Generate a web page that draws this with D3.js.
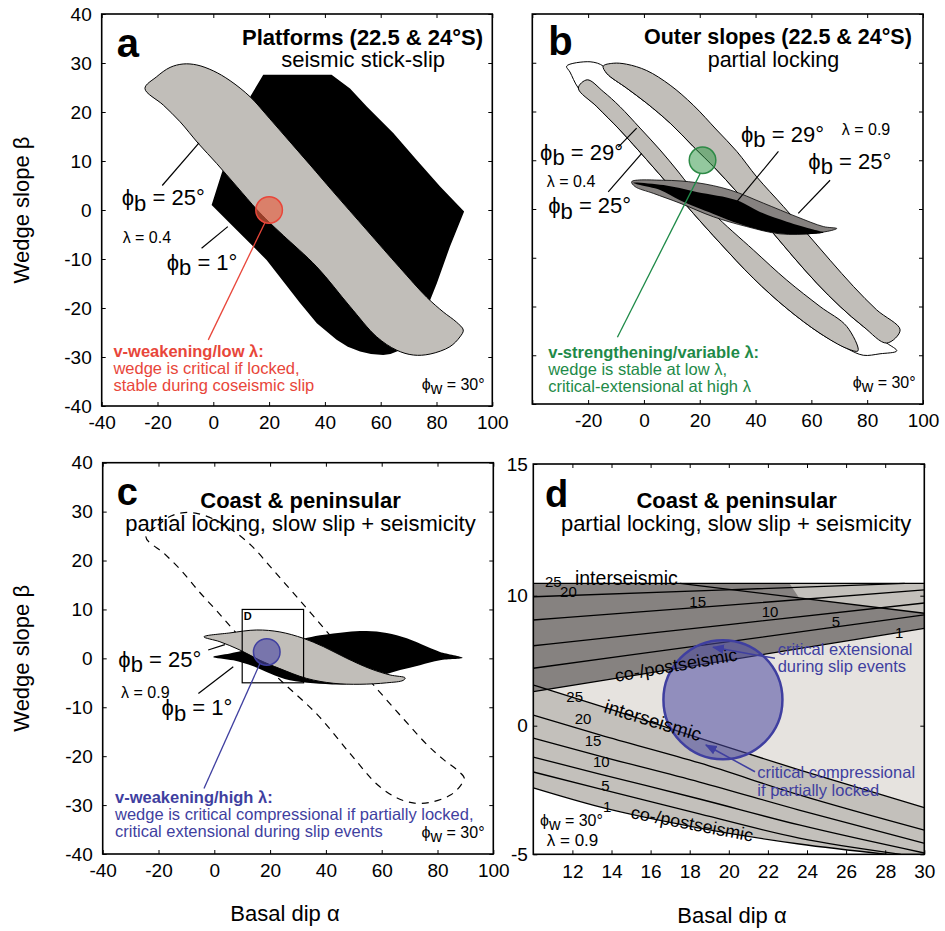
<!DOCTYPE html>
<html>
<head>
<meta charset="utf-8">
<script src="https://cdn.jsdelivr.net/npm/d3@7"></script>
<style>
  body { margin: 0; background: #fff; }
  text { font-family: "Liberation Sans", Arial, sans-serif; }
</style>
</head>
<body>
<script>
// ---------- data: [basal dip alpha, wedge slope beta] ----------
// panel a, phi_b = 25 (light gray band), also drawn dashed in c
const bandA25 = [[-24.5,24.8],[-20.3,27.2],[-15.5,29.1],[-10.8,29.8],[-5.9,29.6],[0,28.4],[6,26.4],[13.2,23.1],
  [20.3,18.6],[27.5,13.9],[34.7,9.2],[43,3.7],[55,-4.1],[66.9,-11.8],[76.5,-17.8],[82.4,-20.8],[87.2,-22.9],[89.6,-24.5],
  [88.4,-25.9],[84.8,-27.9],[77.7,-29.4],[71.7,-29.6],[65.7,-28.6],[58.6,-25.9],[49,-19.7],[37.1,-11.6],[25.1,-5.2],
  [19.7,-2.3],[15.6,0.1],[8.4,4.8],[1.2,9.5],[-5.4,13.6],[-11.9,18.0],[-17.9,21.4]];
// panel a, phi_b = 1 (black)
const blackA1 = [[-0.6,1.0],[3,7.5],[7.8,15.3],[13.2,23.1],[17.9,27.6],[42.4,27.6],[49,24.8],[55,21.1],[64.5,15.7],
  [72.9,10.2],[81.3,4.8],[89.9,-0.3],[84.8,-7.5],[80.1,-15],[77.7,-18.4],[70,-26],[66.9,-28.6],[63.5,-29.4],[60.9,-29.6],
  [56.5,-29.4],[52.6,-28.9],[48.2,-27.9],[44.2,-26.5],[37.1,-23.1],[31.1,-19],[19.1,-10.2],[7.2,-3.4]];

// panel b, lambda = 0.4 bands
const whiteB29 = [[-27.7,29.3],[-19.3,30.2],[-14.6,29.3],[-13.3,27.8],[-6.2,24.8],[1,21.7],[9.4,17.6],[17.7,12.8],[26.1,8],
  [39.2,-0.3],[46.4,-5],[53.5,-9.8],[61.9,-15.2],[70.3,-20],[78.6,-24.1],[87,-27.5],[90.6,-29.1],[84.6,-29.7],[78.6,-30],
  [72.7,-28.6],[63.1,-25.5],[51.2,-20.4],[39.2,-14.2],[27.3,-7],[17.7,-0.9],[9.4,4.6],[1,10.1],[-8.6,16.2],[-16.9,21],
  [-23.5,24.8],[-26.5,28.1]];
const grayB25 = [[-23.5,24.8],[-20.3,26.5],[-14.6,24.1],[-8.6,21],[-1.4,16.6],[5.8,12.1],[11.8,8],[16.5,4.6],[24.9,-0.9],
  [39.2,-8.4],[51.2,-14.6],[63.1,-20],[72.7,-24.1],[76.7,-29.1],[72.7,-28.6],[63.1,-25.5],[51.2,-20.4],[39.2,-14.2],
  [27.3,-7],[17.7,-0.9],[9.4,4.6],[1,10.1],[-8.6,16.2],[-16.9,21]];
const grayB29 = [[-14.6,29.3],[-11,29.9],[-6.2,29.7],[1,28.4],[9.4,25.4],[17.7,21.3],[26.1,16.2],[33.3,11.8],[40.4,6.6],
  [50,0.5],[58.4,-5],[66.7,-10.5],[75.1,-15.9],[83.4,-20.7],[91.8,-24.8],[87,-27.5],[78.6,-24.1],[70.3,-20],[61.9,-15.2],
  [53.5,-9.8],[46.4,-5],[39.2,-0.3],[26.1,8],[17.7,12.8],[9.4,17.6],[1,21.7],[-6.2,24.8],[-13.3,27.8]];
// panel b, lambda = 0.9 lenses
const lensB25 = [[-4.4,5.6],[7,5.9],[18.9,5.4],[30.9,3.9],[42.8,1.2],[54.8,-1.6],[64.3,-3.6],[69.1,-4],[67.9,-4.3],
  [60.7,-5],[48.8,-5.1],[36.8,-3.6],[24.9,-1.6],[12.9,1.2],[3.4,3.2],[-3.2,4.6]];
const lensB29 = [[-3.8,5.4],[7,4.9],[18.9,3.5],[33.3,1.8],[41.6,-0.6],[51.2,-2.6],[60.7,-4.2],[64.3,-4.8],[55.9,-5.2],
  [48.8,-5],[41.6,-4.3],[34.4,-3.1],[24.9,-1],[12.9,1.8],[5.8,3.9],[-1.4,4.9]];

// panel c, lambda = 0.9
const grayC25 = [[-3.7,4.4],[5.6,5.2],[15.2,5.8],[23.5,5.4],[31.9,4.1],[39.1,2.4],[47.5,0],[55.8,-2.1],[63,-3.4],
  [68.4,-4],[67.7,-4.5],[61.8,-5],[52.2,-5.3],[42.7,-5.1],[33.1,-4.1],[23.5,-2.1],[16.4,-0.4],[9.2,1.7],[2,3.4]];
const blackC1 = [[-0.4,0.3],[5.6,1],[11.6,1.7],[20,2.5],[27.1,3.3],[31.9,4],[37.9,4.7],[47.5,5.4],[54.6,5.6],[61.8,5.2],
  [69,4.1],[76.1,2.4],[80.9,1.3],[89,0.1],[80.9,-0.4],[73.7,-1.4],[66.6,-2.4],[60.6,-3.4],[54.6,-4.5],[47.5,-5.3],
  [35.5,-5.1],[27.1,-4.5],[20,-3.1],[14,-1.6],[6.8,-0.4]];
const boxDx = [10, 32], boxDy = [-5, 10];

// panel d contours (phi_b = 25, 20, 15, 10, 5, 1)
const dTopLine = [[10,10.47],[30,10.47]];
const dInter = {            // upper family, rising
  20: [[10,9.92],[19.5,10.21],[29,10.47]],
  15: [[10,8.13],[20,9.28],[30,10.22]],
  10: [[10,6.15],[20,7.78],[30,9.44]],
  5:  [[10,4.42],[20,6.47],[30,8.52]],
  1:  [[10,2.62],[20,5.05],[30,7.49]]
};
const dDescLine = [[17.5,10.47],[30,8.65]];
const dLightTri = [[23.1,10.47],[30,10.47],[30,8.65],[23.6,9.82]];
const dCoXs = [10, 13.4, 18.5, 23.6, 30];
const dCo = {               // lower family, falling
  25: [3.13, 1.52, -0.48, -1.72, -3.19],
  20: [0.82, -0.36, -1.45, -2.69, -4.06],
  15: [-0.48, -1.18, -2.19, -3.28, -4.57],
  10: [-1.22, -1.88, -2.85, -3.86, -4.95]
};
const dCo5 = [[10,-1.8],[13.4,-2.46],[18.5,-3.43],[23.6,-4.37],[28.8,-5]];
const dCo1 = [[10,-2.42],[13.4,-3.16],[18.5,-3.98],[23.6,-4.6],[28.1,-5]];

// highlighted conditions (circle centres)
const circA = [20, 0], circB = [21, 10], circC = [18.8, 1.3], circD = [19.7, 2.0];

// ticks
const xTicks = [-40, -20, 0, 20, 40, 60, 80, 100];
const yTicks = [-40, -30, -20, -10, 0, 10, 20, 30, 40];
const dXTicks = [12, 14, 16, 18, 20, 22, 24, 26, 28, 30];
const dYTicks = [-5, 0, 10, 15];

// ---------- drawing ----------
const FONT = '"Liberation Sans", Arial, sans-serif';
const GRAY = "#c1beb9", DARK = "#868280";
const RED = "#e8463a", GREEN = "#1e8a48", BLUE = "#3f3fa0";

const svg = d3.select("body").append("svg").attr("width", 945).attr("height", 931);

const xA = d3.scaleLinear().domain([-40, 100]).range([101.7, 492.3]);
const yA = d3.scaleLinear().domain([-40, 40]).range([406, 14]);
const xB = d3.scaleLinear().domain([-40, 100]).range([532.3, 923]);
const yB = d3.scaleLinear().domain([-40, 40]).range([404, 14]);
const xC = d3.scaleLinear().domain([-40, 100]).range([102.7, 493.3]);
const yC = d3.scaleLinear().domain([-40, 40]).range([854, 462.7]);
const xD = d3.scaleLinear().domain([10, 30]).range([533.3, 924.3]);
// the source figure's y labels in d are unevenly spaced, so the scale is piecewise
const yD = d3.scaleLinear().domain([-5, 0, 10, 15]).range([854.3, 725.7, 595.7, 464]);

function closed(x, y) { return d3.line().x(d => x(d[0])).y(d => y(d[1])).curve(d3.curveCatmullRomClosed.alpha(0.5)); }
function poly(x, y) { return d3.line().x(d => x(d[0])).y(d => y(d[1])).curve(d3.curveLinearClosed); }
function open(x, y) { return d3.line().x(d => x(d[0])).y(d => y(d[1])).curve(d3.curveMonotoneX); }
function seg(g, x, y, p, q, color, w) {
  return g.append("line").attr("x1", x(p[0])).attr("y1", y(p[1])).attr("x2", x(q[0])).attr("y2", y(q[1]))
    .attr("stroke", color || "#000").attr("stroke-width", w || 1.2);
}
function txt(g, x, y, p, s, size, opts) {
  opts = opts || {};
  return g.append("text").attr("x", x(p[0])).attr("y", y(p[1])).text(s)
    .style("font-size", size + "px")
    .style("font-weight", opts.bold ? "bold" : null)
    .attr("text-anchor", opts.anchor || "start")
    .attr("fill", opts.color || "#000");
}
function phi(g, x, y, p, sub, rest, size) {
  const t = g.append("text").attr("x", x(p[0])).attr("y", y(p[1])).style("font-size", size + "px");
  t.append("tspan").text("ϕ");
  t.append("tspan").attr("dy", size * 0.25).text(sub);
  t.append("tspan").attr("dy", -size * 0.25).text(rest);
  return t;
}
function clip(id, x, y) {
  const r = y.range();
  svg.append("clipPath").attr("id", id).append("rect")
    .attr("x", x.range()[0]).attr("y", r[r.length - 1])
    .attr("width", x.range()[1] - x.range()[0]).attr("height", r[0] - r[r.length - 1]);
  return svg.append("g").attr("clip-path", `url(#${id})`);
}
function axes(x, y, xVals, yVals, xFmt, yFmt, pad) {
  const r = y.range(), yb = r[0], yt = r[r.length - 1];
  const [xl, xr] = x.range();
  const tidy = a => a.call(s => s.select(".domain").remove())
    .call(s => s.selectAll("text").style("font-size", "19px").style("font-family", FONT))
    .call(s => s.selectAll("line").attr("stroke-width", 1));
  svg.append("g").attr("transform", `translate(0,${yb})`)
    .call(d3.axisBottom(x).tickValues(xVals).tickSize(-4).tickPadding(10).tickFormat(xFmt)).call(tidy);
  svg.append("g").attr("transform", `translate(0,${yt})`)
    .call(d3.axisTop(x).tickValues(xVals).tickSize(-4).tickFormat("")).call(tidy);
  svg.append("g").attr("transform", `translate(${xl},0)`)
    .call(d3.axisLeft(y).tickValues(yVals).tickSize(-4).tickPadding(pad).tickFormat(yFmt)).call(tidy);
  svg.append("g").attr("transform", `translate(${xr},0)`)
    .call(d3.axisRight(y).tickValues(yVals).tickSize(-4).tickFormat("")).call(tidy);
  svg.append("rect").attr("x", xl).attr("y", yt).attr("width", xr - xl).attr("height", yb - yt)
    .attr("fill", "none").attr("stroke", "#000").attr("stroke-width", 1.6);
}
const num = d => String(d);

// ===== panel a =====
const gA = clip("clipA", xA, yA);
gA.append("path").datum(blackA1).attr("d", poly(xA, yA)).attr("fill", "#000");
gA.append("path").datum(bandA25).attr("d", closed(xA, yA)).attr("fill", GRAY).attr("stroke", "#000").attr("stroke-width", 1);
gA.append("circle").attr("cx", xA(circA[0])).attr("cy", yA(circA[1])).attr("r", 13.3)
  .attr("fill", "#e8603f").attr("fill-opacity", 0.65).attr("stroke", RED).attr("stroke-width", 1.5);
seg(gA, xA, yA, [18.5, -2.6], [-1.8, -26.5], RED, 1.3);
seg(gA, xA, yA, [-18.3, 5.0], [-5.1, 13.7]);
seg(gA, xA, yA, [-4.2, -7.8], [5.2, -3.4]);
phi(gA, xA, yA, [-32.8, 1.0], "b", " = 25°", 22);
txt(gA, xA, yA, [-32.5, -6.7], "λ = 0.4", 16);
phi(gA, xA, yA, [-16.7, -12.2], "b", " = 1°", 22);
txt(gA, xA, yA, [-35.8, -29.9], "v-weakening/low λ:", 16.5, { bold: true, color: RED });
txt(gA, xA, yA, [-35.8, -33.5], "wedge is critical if locked,", 16.5, { color: RED });
txt(gA, xA, yA, [-35.8, -36.9], "stable during coseismic slip", 16.5, { color: RED });
phi(gA, xA, yA, [74.7, -36.7], "w", " = 30°", 16);
txt(gA, xA, yA, [-34.6, 31.3], "a", 40, { bold: true });
txt(gA, xA, yA, [96.7, 33.7], "Platforms (22.5 & 24°S)", 22, { bold: true, anchor: "end" });
txt(gA, xA, yA, [53.7, 29.2], "seismic stick-slip", 22, { anchor: "middle" });
axes(xA, yA, xTicks, yTicks, num, num, 10);

// ===== panel b =====
const gB = clip("clipB", xB, yB);
gB.append("path").datum(whiteB29).attr("d", closed(xB, yB)).attr("fill", "#fff").attr("stroke", "#000").attr("stroke-width", 1);
gB.append("path").datum(grayB25).attr("d", closed(xB, yB)).attr("fill", GRAY).attr("stroke", "#000").attr("stroke-width", 1);
gB.append("path").datum(grayB29).attr("d", closed(xB, yB)).attr("fill", GRAY).attr("stroke", "#000").attr("stroke-width", 1);
gB.append("path").datum(lensB25).attr("d", closed(xB, yB)).attr("fill", DARK).attr("stroke", "#000").attr("stroke-width", 0.8);
gB.append("path").datum(lensB29).attr("d", closed(xB, yB)).attr("fill", "#000");
gB.append("circle").attr("cx", xB(circB[0])).attr("cy", yB(circB[1])).attr("r", 13.3)
  .attr("fill", "#3a9a4e").attr("fill-opacity", 0.55).attr("stroke", "#2d8a46").attr("stroke-width", 1.5);
seg(gB, xB, yB, [20.1, 7.2], [-9.5, -26.3], GREEN, 1.3);
seg(gB, xB, yB, [-9.2, 12.7], [-2.6, 16.6]);
seg(gB, xB, yB, [-12.8, 3.5], [-0.8, 11.4]);
seg(gB, xB, yB, [48.2, 11.8], [33.3, 1.5]);
seg(gB, xB, yB, [66.7, 5.9], [55.3, -0.9]);
phi(gB, xB, yB, [-37.2, 10.1], "b", " = 29°", 22);
txt(gB, xB, yB, [-34.8, 4.6], "λ = 0.4", 16);
phi(gB, xB, yB, [-34.3, -0.9], "b", " = 25°", 22);
phi(gB, xB, yB, [34.8, 13.8], "b", " = 29°", 22);
txt(gB, xB, yB, [70.9, 15.2], "λ = 0.9", 16);
phi(gB, xB, yB, [58.9, 8.3], "b", " = 25°", 22);
txt(gB, xB, yB, [-34.3, -30.6], "v-strengthening/variable λ:", 16.5, { bold: true, color: GREEN });
txt(gB, xB, yB, [-34.3, -34.1], "wedge is stable at low λ,", 16.5, { color: GREEN });
txt(gB, xB, yB, [-34.3, -37.5], "critical-extensional at high λ", 16.5, { color: GREEN });
phi(gB, xB, yB, [74.8, -36.8], "w", " = 30°", 16);
txt(gB, xB, yB, [-34.3, 31.6], "b", 40, { bold: true });
txt(gB, xB, yB, [96, 33.9], "Outer slopes (22.5 & 24°S)", 21.5, { bold: true, anchor: "end" });
txt(gB, xB, yB, [46.4, 29.1], "partial locking", 21.5, { anchor: "middle" });
axes(xB, yB, xTicks, yTicks, d => d === -40 ? "" : String(d), () => "", 10);

// ===== panel c =====
const gC = clip("clipC", xC, yC);
gC.append("path").datum(bandA25).attr("d", closed(xC, yC)).attr("fill", "none")
  .attr("stroke", "#000").attr("stroke-width", 1.2).attr("stroke-dasharray", "7,6");
gC.append("path").datum(blackC1).attr("d", closed(xC, yC)).attr("fill", "#000");
gC.append("path").datum(grayC25).attr("d", closed(xC, yC)).attr("fill", GRAY).attr("stroke", "#000").attr("stroke-width", 1);
gC.append("rect").attr("x", xC(boxDx[0])).attr("y", yC(boxDy[1]))
  .attr("width", xC(boxDx[1]) - xC(boxDx[0])).attr("height", yC(boxDy[0]) - yC(boxDy[1]))
  .attr("fill", "none").attr("stroke", "#000").attr("stroke-width", 1.2);
txt(gC, xC, yC, [10.6, 7.8], "D", 11, { bold: true });
gC.append("circle").attr("cx", xC(circC[0])).attr("cy", yC(circC[1])).attr("r", 13.3)
  .attr("fill", "#4844a3").attr("fill-opacity", 0.6).attr("stroke", BLUE).attr("stroke-width", 1.5);
seg(gC, xC, yC, [16.4, -1], [-3.7, -26.6], BLUE, 1.3);
seg(gC, xC, yC, [-2.2, 1.7], [3.8, 2.8]);
seg(gC, xC, yC, [-5.7, -7.2], [6.8, -1.7]);
phi(gC, xC, yC, [-34.4, -1.7], "b", " = 25°", 22);
txt(gC, xC, yC, [-33.4, -8.1], "λ = 0.9", 16);
phi(gC, xC, yC, [-18.9, -11.6], "b", " = 1°", 22);
txt(gC, xC, yC, [-35.6, -29.6], "v-weakening/high λ:", 16.5, { bold: true, color: BLUE });
txt(gC, xC, yC, [-35.6, -33.1], "wedge is critical compressional if partially locked,", 16.5, { color: BLUE });
txt(gC, xC, yC, [-35.6, -36.5], "critical extensional during slip events", 16.5, { color: BLUE });
phi(gC, xC, yC, [74.3, -36.8], "w", " = 30°", 16);
txt(gC, xC, yC, [-35, 31.3], "c", 38, { bold: true });
txt(gC, xC, yC, [30.9, 30.7], "Coast & peninsular", 22, { bold: true, anchor: "middle" });
txt(gC, xC, yC, [30.9, 26.1], "partial locking, slow slip + seismicity", 22, { anchor: "middle" });
axes(xC, yC, xTicks, yTicks, num, num, 10);

// ===== panel d =====
const gD = clip("clipD", xD, yD);
const lD = open(xD, yD);
const flat = d3.line().x(d => xD(d[0])).y(d => yD(d[1]));
const coLine = k => dCoXs.map((a, i) => [a, dCo[k][i]]);
// light field between the two families
gD.append("path").datum(dInter[1].concat([[30, -3.19]], coLine(25).reverse())).attr("d", flat).attr("fill", "#e6e3df");
// lower (co-/postseismic) band
gD.append("path").datum(coLine(25).concat([[30, -5.3]], dCo1.slice().reverse())).attr("d", flat).attr("fill", "#c3c0bb");
// upper (interseismic) band
gD.append("path").datum(dTopLine.concat(dInter[1].slice().reverse())).attr("d", flat).attr("fill", DARK);
gD.append("path").datum(dLightTri).attr("d", flat).attr("fill", "#c3c0bb");
[dTopLine, dDescLine, dInter[20], dInter[15], dInter[10], dInter[5], dInter[1],
 coLine(25), coLine(20), coLine(15), coLine(10), dCo5, dCo1].forEach(l => {
  gD.append("path").datum(l).attr("d", lD).attr("fill", "none").attr("stroke", "#000").attr("stroke-width", 1.3);
});
gD.append("circle").attr("cx", xD(circD[0])).attr("cy", yD(circD[1])).attr("r", 59.5)
  .attr("fill", "#4a48a0").attr("fill-opacity", 0.55).attr("stroke", BLUE).attr("stroke-width", 2.5);
// contour labels
[["25", [10.6, 10.33]], ["20", [11.37, 9.9]], ["15", [17.98, 9.13]], ["10", [21.68, 8.36]], ["5", [25.26, 7.59]], ["1", [28.5, 6.75]],
 ["25", [11.69, 1.8]], ["20", [12.12, 0.13]], ["15", [12.63, -0.79]], ["10", [13.05, -1.62]], ["5", [13.48, -2.53]], ["1", [13.57, -3.34]]]
  .forEach(([s, p]) => txt(gD, xD, yD, p, s, 15));
txt(gD, xD, yD, [12.13, 10.41], "interseismic", 19.5);
txt(gD, xD, yD, [0, 0], "co-/postseismic", 18).attr("x", null).attr("y", null)
  .attr("transform", `translate(${xD(14.23)},${yD(3.36)}) rotate(-10)`);
txt(gD, xD, yD, [0, 0], "interseismic", 19).attr("x", null).attr("y", null)
  .attr("transform", `translate(${xD(13.57)},${yD(1.05)}) rotate(17)`);
txt(gD, xD, yD, [0, 0], "co-/postseismic", 18).attr("x", null).attr("y", null)
  .attr("transform", `translate(${xD(14.95)},${yD(-3.59)}) rotate(11)`);
// arrows
svg.append("defs").append("marker").attr("id", "arr").attr("viewBox", "0 0 10 10").attr("refX", 9).attr("refY", 5)
  .attr("markerWidth", 8).attr("markerHeight", 8).attr("orient", "auto")
  .append("path").attr("d", "M0,1 L10,5 L0,9 z").attr("fill", BLUE);
seg(gD, xD, yD, [22.36, 5.18], [19.2, 6.03], BLUE, 1.5).attr("marker-end", "url(#arr)");
seg(gD, xD, yD, [21.34, -1.79], [18.83, -0.75], BLUE, 1.5).attr("marker-end", "url(#arr)");
txt(gD, xD, yD, [22.5, 5.44], "critical extensional", 16.5, { color: BLUE });
txt(gD, xD, yD, [22.5, 4.16], "during slip events", 16.5, { color: BLUE });
txt(gD, xD, yD, [21.46, -2.05], "critical compressional", 16.5, { color: BLUE });
txt(gD, xD, yD, [21.46, -2.72], "if partially locked", 16.5, { color: BLUE });
phi(gD, xD, yD, [10.34, -3.9], "w", " = 30°", 16);
txt(gD, xD, yD, [10.69, -4.66], "λ = 0.9", 17);
txt(gD, xD, yD, [10.6, 13.38], "d", 38, { bold: true });
txt(gD, xD, yD, [20.4, 13.32], "Coast & peninsular", 22, { bold: true, anchor: "middle" });
txt(gD, xD, yD, [20.37, 12.47], "partial locking, slow slip + seismicity", 22, { anchor: "middle" });
axes(xD, yD, dXTicks, dYTicks, num, num, 5.5);

// ===== axis titles =====
[[yA, 0], [yC, 0]].forEach(([y, v]) => {
  svg.append("text").attr("transform", `translate(29,${y(v)}) rotate(-90)`).attr("text-anchor", "middle")
    .style("font-size", "22px").text("Wedge slope β");
});
svg.append("text").attr("x", 285).attr("y", 921).attr("text-anchor", "middle").style("font-size", "22px").text("Basal dip α");
svg.append("text").attr("x", 732).attr("y", 923).attr("text-anchor", "middle").style("font-size", "22px").text("Basal dip α");
</script>
</body>
</html>
